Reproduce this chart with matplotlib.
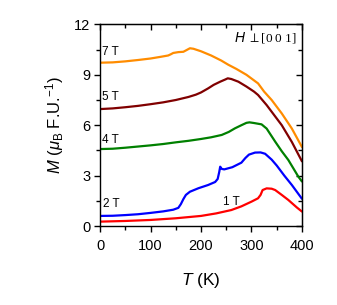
import matplotlib
matplotlib.use("Agg")
import matplotlib.pyplot as plt
from matplotlib.ticker import MultipleLocator

plt.rcParams['font.family'] = ['Liberation Sans', 'DejaVu Sans']
plt.rcParams['mathtext.fontset'] = 'custom'
plt.rcParams['mathtext.rm'] = 'Liberation Sans'
plt.rcParams['mathtext.it'] = 'Liberation Sans:italic'
plt.rcParams['mathtext.sf'] = 'Liberation Sans'

# Data
T_7 = [0, 25, 50, 75, 100, 120, 135, 140, 145, 155, 165, 170, 178, 185, 200, 220, 240, 254, 270, 290, 313, 325, 340, 360, 380, 400]
M_7 = [9.72, 9.74, 9.8, 9.88, 9.97, 10.07, 10.15, 10.22, 10.3, 10.35, 10.37, 10.45, 10.58, 10.55, 10.4, 10.15, 9.85, 9.6, 9.35, 9.0, 8.49, 8.0, 7.5, 6.7, 5.8, 4.7]

T_5 = [0, 25, 50, 75, 100, 125, 150, 175, 190, 200, 214, 225, 238, 248, 253, 260, 274, 290, 305, 313, 330, 345, 360, 380, 400]
M_5 = [6.96, 7.0, 7.07, 7.15, 7.25, 7.36, 7.5, 7.68, 7.82, 7.95, 8.19, 8.4, 8.59, 8.72, 8.79, 8.75, 8.59, 8.3, 8.0, 7.8, 7.2, 6.6, 6.0, 5.0, 3.85]

T_4 = [0, 25, 50, 75, 100, 125, 150, 175, 200, 220, 241, 255, 267, 280, 290, 296, 305, 320, 330, 347, 360, 373, 393, 400]
M_4 = [4.58, 4.6, 4.66, 4.73, 4.8, 4.88, 4.98, 5.07, 5.18, 5.28, 5.42, 5.6, 5.81, 6.0, 6.14, 6.17, 6.13, 6.05, 5.8, 5.02, 4.45, 3.93, 2.93, 2.65]

T_2 = [0, 25, 50, 75, 100, 125, 145, 155, 160, 165, 170, 178, 195, 214, 228, 233, 236, 238, 241, 246, 262, 280, 288, 295, 307, 318, 327, 340, 350, 365, 380, 400]
M_2 = [0.6, 0.61, 0.65, 0.7, 0.78, 0.87, 0.97, 1.08, 1.3, 1.6, 1.85, 2.04, 2.25, 2.44, 2.62, 2.8, 3.2, 3.53, 3.4, 3.37, 3.5, 3.77, 4.05, 4.25, 4.37, 4.38, 4.3, 3.95, 3.6, 3.0, 2.44, 1.62]

T_1 = [0, 50, 100, 150, 200, 230, 260, 280, 300, 313, 318, 322, 330, 340, 347, 360, 373, 390, 400]
M_1 = [0.26, 0.3, 0.36, 0.46, 0.6, 0.75, 0.95, 1.17, 1.45, 1.65, 1.85, 2.14, 2.24, 2.22, 2.14, 1.85, 1.55, 1.1, 0.86]

series = [
    (T_7, M_7, '#FF8C00', '7 T', (4, 10.33)),
    (T_5, M_5, '#800000', '5 T', (4, 7.65)),
    (T_4, M_4, '#008000', '4 T', (4, 5.1)),
    (T_2, M_2, '#0000FF', '2 T', (6, 1.3)),
    (T_1, M_1, '#FF0000', '1 T', (243, 1.4)),
]

fig = plt.figure(figsize=(3.37, 3.05), dpi=100)
ax = fig.add_axes([0.297, 0.259, 0.599, 0.661])

for T, M, c, lab, pos in series:
    ax.plot(T, M, color=c, lw=1.6, solid_joinstyle='round', solid_capstyle='round')
    ax.text(pos[0], pos[1], lab, fontsize=8.5, ha='left', va='center')

ax.set_xlim(0, 400)
ax.set_ylim(0, 12)
ax.xaxis.set_major_locator(MultipleLocator(100))
ax.xaxis.set_minor_locator(MultipleLocator(50))
ax.yaxis.set_major_locator(MultipleLocator(3))
ax.yaxis.set_minor_locator(MultipleLocator(1.5))
ax.tick_params(which='major', direction='out', length=4, width=1, labelsize=10.5, pad=3)
ax.tick_params(axis='x', which='major', pad=5)
ax.tick_params(which='minor', direction='out', length=2.8, width=1)

for s in ax.spines.values():
    s.set_linewidth(1.0)

secx = ax.secondary_xaxis('top')
secx.xaxis.set_major_locator(MultipleLocator(100))
secx.xaxis.set_minor_locator(MultipleLocator(50))
secx.tick_params(which='major', direction='in', length=4, width=1, labeltop=False)
secx.tick_params(which='minor', direction='in', length=2.8, width=1)
secy = ax.secondary_yaxis('right')
secy.yaxis.set_major_locator(MultipleLocator(3))
secy.yaxis.set_minor_locator(MultipleLocator(1.5))
secy.tick_params(which='major', direction='in', length=4, width=1, labelright=False)
secy.tick_params(which='minor', direction='in', length=2.8, width=1)

ax.set_xlabel(r'$T$ (K)', fontsize=12.5, labelpad=13)
ax.set_ylabel(r'$M$ ($\mu_\mathrm{B}$ F.U.$^{-1}$)', fontsize=12, labelpad=6)

t1 = ax.text(390, 11.2, r'$\perp$[0 0 1]', fontsize=9.5, ha='right', va='center',
             family='Liberation Serif')
ax.annotate(r'$H$', xy=(0, 0.5), xycoords=t1, ha='right', va='center', fontsize=10,
            xytext=(-1, 0), textcoords='offset points')

fig.savefig('out.png', dpi=100)
